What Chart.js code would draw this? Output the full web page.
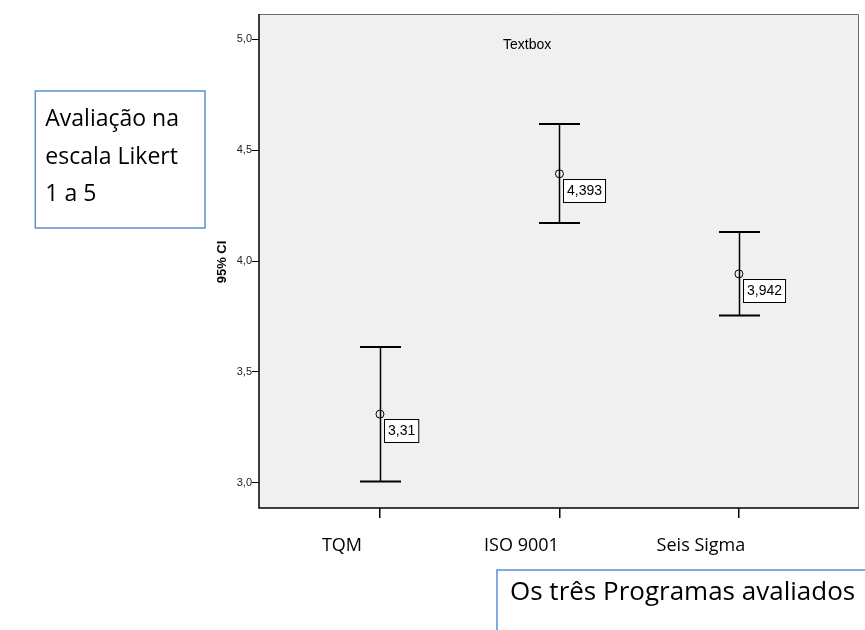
<!DOCTYPE html>
<html>
<head>
<meta charset="utf-8">
<script src="https://cdn.jsdelivr.net/npm/chart.js@4.4.0/dist/chart.umd.min.js"></script>
<style>
  html, body { margin: 0; padding: 0; background: #fff; }
  #wrap { width: 865px; height: 630px; }
</style>
</head>
<body>
<div id="wrap"><canvas id="chart" width="865" height="630"></canvas></div>
<script>
// data
var categories = ["TQM", "ISO 9001", "Seis Sigma"];
var means = [3.31, 4.393, 3.942];
var upperCI = [3.613, 4.617, 4.131];
var lowerCI = [3.006, 4.171, 3.754];
var meanLabels = ["3,31", "4,393", "3,942"];
var yTicks = [3.0, 3.5, 4.0, 4.5, 5.0];
var yTickLabels = ["3,0", "3,5", "4,0", "4,5", "5,0"];

var points = means.map(function (m, i) {
  return { x: i, y: m };
});

var frame = {
  id: "frame",
  beforeDraw: function (chart) {
    var ctx = chart.ctx;
    var a = chart.chartArea;
    ctx.save();
    ctx.fillStyle = "#f0f0f0";
    ctx.fillRect(a.left, a.top, a.right - a.left, a.bottom - a.top);
    ctx.strokeStyle = "#6e6e6e";
    ctx.lineWidth = 1;
    ctx.beginPath();
    ctx.moveTo(a.left, a.top + 0.5);
    ctx.lineTo(a.right - 0.5, a.top + 0.5);
    ctx.lineTo(a.right - 0.5, a.bottom);
    ctx.stroke();
    ctx.strokeStyle = "#000";
    ctx.lineWidth = 1.5;
    ctx.beginPath();
    ctx.moveTo(a.left, a.top);
    ctx.lineTo(a.left, a.bottom);
    ctx.lineTo(a.right, a.bottom);
    ctx.stroke();

    ctx.fillStyle = "#000";
    ctx.font = "14px Arial";
    ctx.textBaseline = "middle";
    ctx.textAlign = "left";
    ctx.fillText("Textbox", 503, 45);

    // y axis title
    ctx.save();
    ctx.translate(222, 262);
    ctx.rotate(-Math.PI / 2);
    ctx.font = "bold 13px Arial";
    ctx.textAlign = "center";
    ctx.fillText("95% CI", 0, 0);
    ctx.restore();
    ctx.restore();
  },
  beforeDatasetsDraw: function (chart) {
    var ctx = chart.ctx;
    var xs = chart.scales.x;
    var ys = chart.scales.y;
    ctx.save();
    ctx.strokeStyle = "#000";
    for (var i = 0; i < categories.length; i++) {
      var x = Math.round(xs.getPixelForValue(i)) + 0.5;
      var yt = ys.getPixelForValue(upperCI[i]);
      var yb = ys.getPixelForValue(lowerCI[i]);
      ctx.lineWidth = 1.5;
      ctx.beginPath();
      ctx.moveTo(x, yt);
      ctx.lineTo(x, yb);
      ctx.stroke();
      ctx.lineWidth = 2;
      ctx.beginPath();
      ctx.moveTo(x - 20.5, yt);
      ctx.lineTo(x + 20.5, yt);
      ctx.moveTo(x - 20.5, yb);
      ctx.lineTo(x + 20.5, yb);
      ctx.stroke();
    }
    ctx.restore();
  },
  afterDatasetsDraw: function (chart) {
    var ctx = chart.ctx;
    var xs = chart.scales.x;
    var ys = chart.scales.y;
    ctx.save();
    ctx.font = "14px Arial";
    ctx.textBaseline = "middle";
    ctx.textAlign = "left";
    for (var i = 0; i < categories.length; i++) {
      var x = xs.getPixelForValue(i);
      var y = ys.getPixelForValue(means[i]);
      var w = ctx.measureText(meanLabels[i]).width + 7;
      var bx = Math.round(x) + 4.5;
      var by = Math.round(y) + 5.5;
      ctx.fillStyle = "#fff";
      ctx.fillRect(bx, by, w, 23);
      ctx.strokeStyle = "#000";
      ctx.lineWidth = 1;
      ctx.strokeRect(bx, by, w, 23);
      ctx.fillStyle = "#000";
      ctx.fillText(meanLabels[i], bx + 3.5, by + 12);
    }

    // the two text boxes laid over the chart
    ctx.strokeStyle = "#5b8fd0";
    ctx.lineWidth = 1.5;
    ctx.font = "23px 'Open Sans'";
    ctx.textBaseline = "alphabetic";
    var tx = 179 - ctx.measureText("Avaliação na").width;
    ctx.fillStyle = "#fff";
    ctx.fillRect(tx - 10, 91, 205 - (tx - 10), 137);
    ctx.strokeRect(tx - 10, 91, 205 - (tx - 10), 137);
    ctx.fillStyle = "#000";
    ctx.fillText("Avaliação na", tx, 126);
    ctx.fillText("escala Likert", tx, 164);
    ctx.fillText("1 a 5", tx, 201);

    ctx.fillStyle = "#fff";
    ctx.fillRect(497, 570, 400, 100);
    ctx.strokeRect(497, 570, 400, 100);
    ctx.fillStyle = "#000";
    ctx.font = "26px 'Open Sans'";
    ctx.fillText("Os três Programas avaliados", 510, 600);
    ctx.restore();
  }
};

new Chart(document.getElementById("chart"), {
  type: "scatter",
  data: {
    datasets: [
      {
        data: points,
        pointStyle: "circle",
        pointRadius: 4,
        pointBorderWidth: 1,
        borderColor: "#000",
        backgroundColor: "rgba(0,0,0,0)"
      }
    ]
  },
  options: {
    responsive: false,
    animation: false,
    layout: { padding: { top: 14, right: 6, left: 0, bottom: 0 } },
    plugins: { legend: { display: false }, tooltip: { enabled: false } },
    scales: {
      x: {
        type: "linear",
        min: -0.674,
        max: 2.669,
        afterBuildTicks: function (s) {
          s.ticks = categories.map(function (c, i) { return { value: i }; });
        },
        afterFit: function (s) { s.height = 122; },
        border: { display: false },
        grid: { drawOnChartArea: false, tickLength: 10, color: "#000", lineWidth: 1.5 },
        ticks: {
          callback: function (v) { return categories[v]; },
          font: { family: "'Open Sans'", size: 18 },
          color: "#000",
          padding: 17,
          labelOffset: -38,
          maxRotation: 0
        }
      },
      y: {
        min: 2.887,
        max: 5.113,
        afterBuildTicks: function (s) {
          s.ticks = yTicks.map(function (v) { return { value: v }; });
        },
        afterFit: function (s) { s.width = 259; },
        border: { display: false },
        grid: { drawOnChartArea: false, tickLength: 7, color: "#000", lineWidth: 1 },
        ticks: {
          callback: function (v) { return yTickLabels[yTicks.indexOf(v)]; },
          font: { family: "Arial", size: 11 },
          color: "#222",
          padding: 0
        }
      }
    }
  },
  plugins: [frame]
});
</script>
</body>
</html>
